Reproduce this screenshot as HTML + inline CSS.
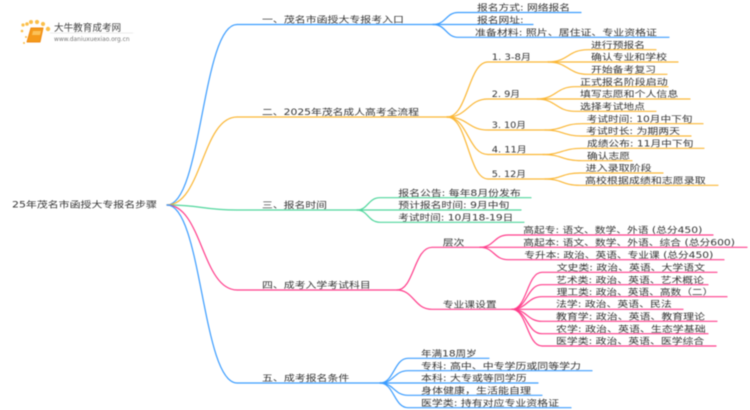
<!DOCTYPE html>
<html><head><meta charset="utf-8">
<style>
html,body{margin:0;padding:0;background:#fff}
svg{display:block;filter:blur(.45px)}
text{font-family:"DejaVu Sans","Noto Sans CJK SC",sans-serif;font-size:10.7px;fill:#333;transform-box:fill-box;transform-origin:left bottom;transform:translateY(-1.6px) scaleY(.8)}
text.n{transform:none}
path{fill:none;stroke-linecap:round}
</style></head><body>
<svg width="750" height="410" viewBox="0 0 750 410" xmlns="http://www.w3.org/2000/svg">
<!-- logo -->
<g fill="#fbbf4a">
<circle cx="22" cy="31" r="1.3"/><circle cx="23" cy="25" r="1.6"/><circle cx="26" cy="37" r="1"/><circle cx="24" cy="43" r="1"/>
<circle cx="27" cy="24" r="1.8"/><circle cx="31" cy="22" r="2"/><circle cx="37" cy="22" r="2.1"/><circle cx="43" cy="24" r="2.1"/><circle cx="48" cy="29" r="2.2"/>
</g>
<path d="M31 28H43L40 42H27Z" style="fill:#f59a1b;stroke:#ef8a12;stroke-width:1;stroke-linejoin:round"/>
<path d="M33 31H41L40 35H32Z" style="fill:#fbc25a"/>
<text class="n" x="54" y="31" style="font-size:9.6px;fill:#444">大牛教育成考网</text>
<path d="M50 33H133" stroke="#e8e8e8" stroke-width=".7"/>
<text class="n" x="54" y="41" style="font-size:5.9px;fill:#777">www.daniuxuexiao.org.cn</text>

<text x="12" y="208.6" textLength="145" lengthAdjust="spacingAndGlyphs">25年茂名市函授大专报名步骤</text>

<!-- branch 1 -->
<g stroke="#3a9cff" stroke-width="1.2">
<path d="M167 205C202 205 202 24.5 237 24.5H433"/>
<path d="M433 24.5C446 24.5 446 12.5 458 12.5H581"/>
<path d="M433 24.5H533"/>
<path d="M433 24.5C446 24.5 446 37.3 458 37.3H669"/>
</g>
<text x="262" y="23.5" textLength="142" lengthAdjust="spacingAndGlyphs">一、茂名市函授大专报考入口</text>
<text x="477" y="11.5" textLength="93" lengthAdjust="spacingAndGlyphs">报名方式: 网络报名</text>
<text x="477" y="23.7" textLength="46.7" lengthAdjust="spacingAndGlyphs">报名网址:</text>
<text x="475" y="36.3" textLength="182" lengthAdjust="spacingAndGlyphs">准备材料: 照片、居住证、专业资格证</text>

<!-- branch 2 -->
<g stroke="#fbb735" stroke-width="1.2">
<path d="M167 205C202 205 202 117 237 117H447"/>
<path d="M447 117C468 117 468 62 488 62H548"/>
<path d="M447 117C468 117 468 99 488 99H537"/>
<path d="M447 117C468 117 468 130 488 130H545"/>
<path d="M447 117C468 117 468 154.5 488 154.5H543"/>
<path d="M447 117C468 117 468 179 488 179H545"/>
<path d="M548 62C568 62 568 49.7 588 49.7H656"/>
<path d="M548 62H678"/>
<path d="M548 62C568 62 568 74.3 588 74.3H667"/>
<path d="M537 99C556 99 556 86.7 575 86.7H668"/>
<path d="M537 99H690"/>
<path d="M537 99C556 99 556 111.3 575 111.3H656"/>
<path d="M545 130C563 130 563 123.7 582 123.7H703"/>
<path d="M545 130C563 130 563 136 582 136H691"/>
<path d="M543 154.5C562 154.5 562 148.3 582 148.3H704"/>
<path d="M543 154.5C562 154.5 562 160.7 582 160.7H632"/>
<path d="M545 179C562 179 562 173 580 173H663"/>
<path d="M545 179C562 179 562 185.3 580 185.3H718"/>
</g>
<text x="262" y="116" textLength="157" lengthAdjust="spacingAndGlyphs">二、2025年茂名成人高考全流程</text>
<text x="491.7" y="61" textLength="39.3" lengthAdjust="spacingAndGlyphs">1. 3-8月</text>
<text x="491.7" y="98" textLength="28.3" lengthAdjust="spacingAndGlyphs">2. 9月</text>
<text x="491.7" y="129" textLength="34.3" lengthAdjust="spacingAndGlyphs">3. 10月</text>
<text x="491.7" y="153.5" textLength="35" lengthAdjust="spacingAndGlyphs">4. 11月</text>
<text x="491.7" y="178" textLength="34.3" lengthAdjust="spacingAndGlyphs">5. 12月</text>
<text x="591" y="48.7" textLength="54" lengthAdjust="spacingAndGlyphs">进行预报名</text>
<text x="591" y="61" textLength="76" lengthAdjust="spacingAndGlyphs">确认专业和学校</text>
<text x="591" y="73.3" textLength="65" lengthAdjust="spacingAndGlyphs">开始备考复习</text>
<text x="580" y="85.7" textLength="87.7" lengthAdjust="spacingAndGlyphs">正式报名阶段启动</text>
<text x="580" y="98" textLength="98.3" lengthAdjust="spacingAndGlyphs">填写志愿和个人信息</text>
<text x="580" y="110.3" textLength="65" lengthAdjust="spacingAndGlyphs">选择考试地点</text>
<text x="586.7" y="122.7" textLength="105.7" lengthAdjust="spacingAndGlyphs">考试时间: 10月中下旬</text>
<text x="586" y="135" textLength="94" lengthAdjust="spacingAndGlyphs">考试时长: 为期两天</text>
<text x="587" y="147.3" textLength="106.3" lengthAdjust="spacingAndGlyphs">成绩公布: 11月中下旬</text>
<text x="587" y="159.7" textLength="43" lengthAdjust="spacingAndGlyphs">确认志愿</text>
<text x="585.7" y="172" textLength="66" lengthAdjust="spacingAndGlyphs">进入录取阶段</text>
<text x="585" y="184.3" textLength="120.7" lengthAdjust="spacingAndGlyphs">高校根据成绩和志愿录取</text>

<!-- branch 3 -->
<g stroke="#4fd69c" stroke-width="1.2">
<path d="M167 205C202 205 202 210 237 210H357"/>
<path d="M357 210C368 210 368 197.7 380 197.7H531"/>
<path d="M357 210H521"/>
<path d="M357 210C368 210 368 222.3 380 222.3H524"/>
</g>
<text x="262" y="209" textLength="65" lengthAdjust="spacingAndGlyphs">三、报名时间</text>
<text x="398.3" y="196.7" textLength="122.4" lengthAdjust="spacingAndGlyphs">报名公告: 每年8月份发布</text>
<text x="398.3" y="209" textLength="111" lengthAdjust="spacingAndGlyphs">预计报名时间: 9月中旬</text>
<text x="398.3" y="221.3" textLength="115" lengthAdjust="spacingAndGlyphs">考试时间: 10月18-19日</text>

<!-- branch 4 -->
<g stroke="#ff3d8b" stroke-width="1.2">
<path d="M167 205C202 205 202 290 237 290H397"/>
<path d="M397 290C414 290 414 247.3 432 247.3H480"/>
<path d="M397 290C414 290 414 309.3 432 309.3H512"/>
<path d="M480 247.3C494 247.3 494 235 508 235H713"/>
<path d="M480 247.3H747"/>
<path d="M480 247.3C494 247.3 494 259.7 508 259.7H724"/>
<path d="M512 309.3C527 309.3 527 272.3 542 272.3H717"/>
<path d="M512 309.3C527 309.3 527 284.7 542 284.7H708"/>
<path d="M512 309.3C527 309.3 527 296.7 542 296.7H727"/>
<path d="M512 309.3H683"/>
<path d="M512 309.3C527 309.3 527 321.3 542 321.3H717"/>
<path d="M512 309.3C527 309.3 527 333.7 542 333.7H708"/>
<path d="M512 309.3C527 309.3 527 346 542 346H716"/>
</g>
<text x="262" y="289" textLength="108.7" lengthAdjust="spacingAndGlyphs">四、成考入学考试科目</text>
<text x="442.7" y="246.3" textLength="21.6" lengthAdjust="spacingAndGlyphs">层次</text>
<text x="442.7" y="308.3" textLength="54" lengthAdjust="spacingAndGlyphs">专业课设置</text>
<text x="523.3" y="234" textLength="179" lengthAdjust="spacingAndGlyphs">高起专: 语文、数学、外语 (总分450)</text>
<text x="523.3" y="246.3" textLength="211.7" lengthAdjust="spacingAndGlyphs">高起本: 语文、数学、外语、综合 (总分600)</text>
<text x="524.3" y="258.7" textLength="189" lengthAdjust="spacingAndGlyphs">专升本: 政治、英语、专业课 (总分450)</text>
<text x="556.7" y="271.3" textLength="148.3" lengthAdjust="spacingAndGlyphs">文史类: 政治、英语、大学语文</text>
<text x="556" y="283.7" textLength="148" lengthAdjust="spacingAndGlyphs">艺术类: 政治、英语、艺术概论</text>
<text x="556.7" y="295.7" textLength="156.6" lengthAdjust="spacingAndGlyphs">理工类: 政治、英语、高数（二）</text>
<text x="556" y="308" textLength="115.7" lengthAdjust="spacingAndGlyphs">法学: 政治、英语、民法</text>
<text x="556" y="320.3" textLength="149" lengthAdjust="spacingAndGlyphs">教育学: 政治、英语、教育理论</text>
<text x="556" y="332.7" textLength="149.7" lengthAdjust="spacingAndGlyphs">农学: 政治、英语、生态学基础</text>
<text x="556" y="345" textLength="148.3" lengthAdjust="spacingAndGlyphs">医学类: 政治、英语、医学综合</text>

<!-- branch 5 -->
<g stroke="#3a9cff" stroke-width="1.2">
<path d="M167 205C202 205 202 383 237 383H380"/>
<path d="M380 383C394 383 394 358.3 408 358.3H489"/>
<path d="M380 383C394 383 394 370.7 408 370.7H592"/>
<path d="M380 383H538"/>
<path d="M380 383C394 383 394 395.3 408 395.3H542"/>
<path d="M380 383C394 383 394 407.7 408 407.7H571"/>
</g>
<text x="262" y="382" textLength="87.3" lengthAdjust="spacingAndGlyphs">五、成考报名条件</text>
<text x="421" y="357.3" textLength="55.7" lengthAdjust="spacingAndGlyphs">年满18周岁</text>
<text x="421" y="369.7" textLength="160" lengthAdjust="spacingAndGlyphs">专科: 高中、中专学历或同等学力</text>
<text x="421" y="382" textLength="105.7" lengthAdjust="spacingAndGlyphs">本科: 大专或等同学历</text>
<text x="421" y="394.3" textLength="110" lengthAdjust="spacingAndGlyphs">身体健康，生活能自理</text>
<text x="421" y="406.7" textLength="138" lengthAdjust="spacingAndGlyphs">医学类: 持有对应专业资格证</text>
</svg>
</body></html>
